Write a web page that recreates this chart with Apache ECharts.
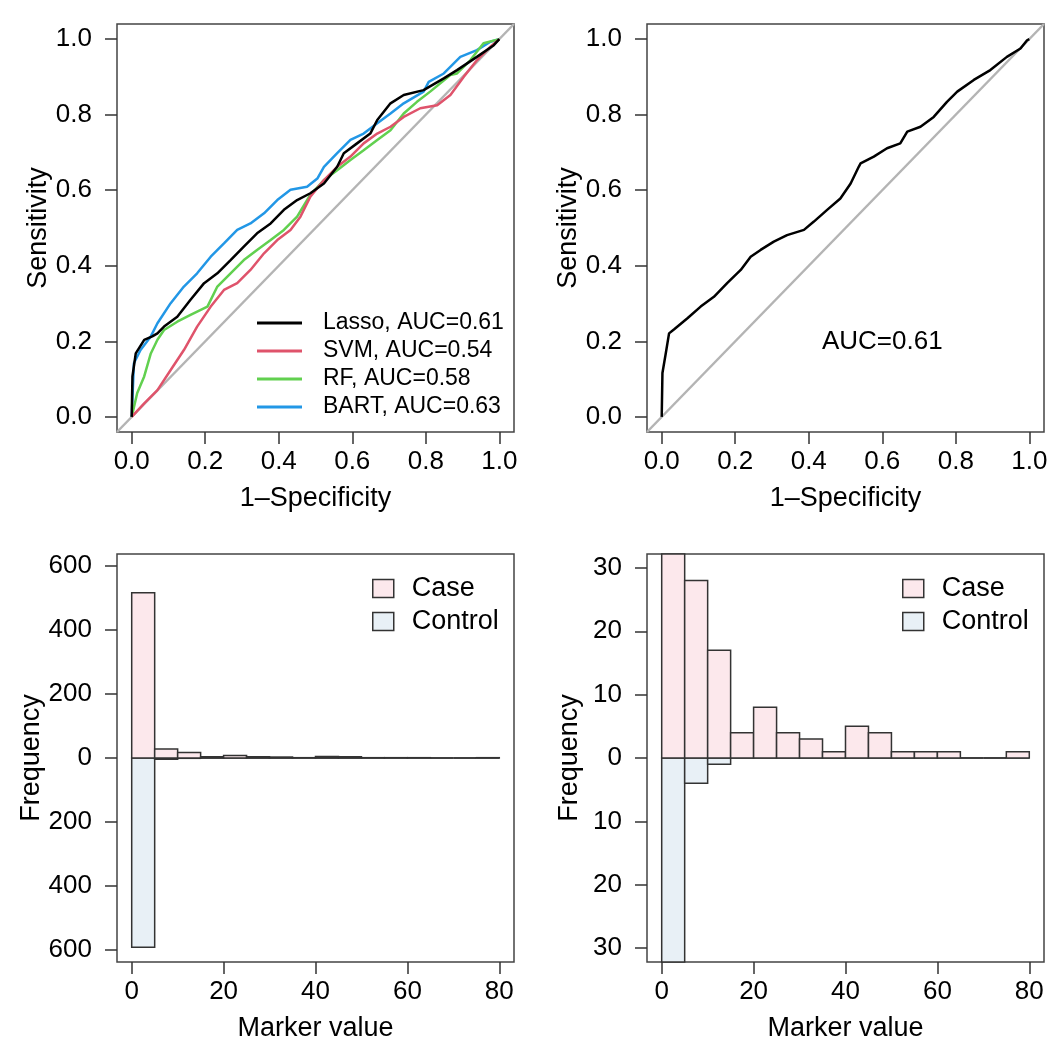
<!DOCTYPE html>
<html>
<head>
<meta charset="utf-8">
<script src="https://cdn.jsdelivr.net/npm/echarts@6/dist/echarts.min.js"></script>
<style>
  html, body { margin: 0; padding: 0; background: #fff; }
  #main { width: 1055px; height: 1057px; }
</style>
</head>
<body>
<div id="main"></div>
<script>
// ROC curves, [1-specificity, sensitivity]
var lassoRoc = [[0,0],[0.002,0.107],[0.011,0.168],[0.034,0.204],[0.056,0.213],[0.07,0.221],[0.088,0.239],[0.124,0.265],[0.16,0.31],[0.197,0.354],[0.233,0.38],[0.269,0.415],[0.305,0.451],[0.341,0.486],[0.378,0.512],[0.414,0.548],[0.45,0.574],[0.486,0.592],[0.523,0.618],[0.559,0.662],[0.577,0.698],[0.613,0.724],[0.649,0.75],[0.668,0.786],[0.704,0.83],[0.74,0.852],[0.794,0.865],[0.849,0.896],[0.885,0.918],[0.939,0.953],[0.985,0.984],[1,1]];
var svmRoc = [[0,0],[0.034,0.036],[0.07,0.071],[0.106,0.124],[0.142,0.177],[0.178,0.239],[0.215,0.292],[0.251,0.336],[0.287,0.354],[0.323,0.389],[0.36,0.433],[0.396,0.468],[0.432,0.495],[0.459,0.53],[0.486,0.583],[0.523,0.627],[0.559,0.662],[0.595,0.689],[0.631,0.724],[0.668,0.75],[0.704,0.768],[0.74,0.794],[0.785,0.817],[0.831,0.825],[0.867,0.852],[0.903,0.9],[0.939,0.944],[0.976,0.98],[1,1]];
var rfRoc = [[0,0],[0.015,0.063],[0.034,0.107],[0.052,0.168],[0.07,0.204],[0.088,0.23],[0.124,0.252],[0.16,0.27],[0.206,0.292],[0.233,0.345],[0.269,0.38],[0.305,0.415],[0.341,0.442],[0.378,0.468],[0.414,0.495],[0.45,0.53],[0.486,0.588],[0.523,0.627],[0.559,0.653],[0.595,0.68],[0.631,0.706],[0.668,0.733],[0.704,0.759],[0.74,0.803],[0.776,0.834],[0.812,0.861],[0.867,0.905],[0.885,0.909],[0.921,0.944],[0.957,0.989],[1,1]];
var bartRoc = [[0,0],[0.006,0.142],[0.024,0.177],[0.052,0.213],[0.07,0.248],[0.106,0.301],[0.142,0.345],[0.178,0.38],[0.215,0.424],[0.251,0.459],[0.287,0.495],[0.323,0.512],[0.36,0.539],[0.396,0.574],[0.432,0.601],[0.477,0.609],[0.505,0.631],[0.523,0.662],[0.559,0.698],[0.595,0.733],[0.631,0.75],[0.668,0.777],[0.704,0.803],[0.74,0.83],[0.794,0.861],[0.808,0.887],[0.849,0.909],[0.894,0.953],[0.939,0.971],[0.976,0.993],[1,1]];
var markerRoc = [[0,0],[0.002,0.116],[0.011,0.168],[0.02,0.221],[0.034,0.232],[0.07,0.261],[0.106,0.292],[0.142,0.318],[0.178,0.354],[0.215,0.389],[0.242,0.424],[0.269,0.442],[0.305,0.464],[0.341,0.481],[0.387,0.495],[0.414,0.517],[0.45,0.548],[0.486,0.578],[0.514,0.618],[0.536,0.662],[0.541,0.671],[0.577,0.689],[0.613,0.711],[0.649,0.724],[0.668,0.755],[0.704,0.768],[0.74,0.794],[0.776,0.834],[0.804,0.861],[0.849,0.892],[0.894,0.918],[0.939,0.953],[0.976,0.975],[0.994,0.997],[1,1]];
var diagonal = [[-0.04,-0.04],[1.04,1.04]];
var rocNames = ['Lasso, AUC=0.61', 'SVM, AUC=0.54', 'RF, AUC=0.58', 'BART, AUC=0.63'];
var rocColors = ['#000000', '#DF536B', '#61D04F', '#2297E6'];
var markerAuc = 'AUC=0.61';

// histogram of marker value, bins of width 5
var binEdges = [0,5,10,15,20,25,30,35,40,45,50,55,60,65,70,75,80];
var caseCounts = [517,28,17,4,8,4,3,1,5,4,1,1,1,0,0,1];
var controlCounts = [592,4,1,0,0,0,0,0,0,0,0,0,0,0,0,0];

var rocTicks = [0,0.2,0.4,0.6,0.8,1];
var histXTicks = [0,20,40,60,80];
var bigYTicks = [-600,-400,-200,0,200,400,600];
var smallYTicks = [-30,-20,-10,0,10,20,30];

var FONT = 'Liberation Sans, Arial, Helvetica, sans-serif';
var caseBins = binEdges.slice(0, -1).map(function (e, i) { return [e, binEdges[i + 1], caseCounts[i]]; });
var controlBins = binEdges.slice(0, -1).map(function (e, i) { return [e, binEdges[i + 1], -controlCounts[i]]; });

var myChart = echarts.init(document.getElementById('main'));

function renderBin(color) {
    return function (params, api) {
        var p0 = api.coord([api.value(0), api.value(2)]);
        var p1 = api.coord([api.value(1), 0]);
        var cs = params.coordSys;
        var rect = echarts.graphic.clipRectByRect({
            x: p0[0], y: Math.min(p0[1], p1[1]),
            width: p1[0] - p0[0], height: Math.abs(p1[1] - p0[1])
        }, { x: cs.x, y: cs.y, width: cs.width, height: cs.height });
        return rect && {
            type: 'rect', shape: rect,
            style: { fill: color, stroke: '#333', lineWidth: 1.5 }
        };
    };
}

function xAxis(idx, min, max, ticks, name, fmt) {
    return {
        gridIndex: idx, type: 'value', min: min, max: max,
        splitLine: { show: false },
        axisLine: { show: false, onZero: false },
        axisTick: { show: true, inside: false, length: 12, customValues: ticks, lineStyle: { color: '#333', width: 1.5 } },
        axisLabel: { customValues: ticks, margin: 17, color: '#000', fontSize: 26, fontFamily: FONT, formatter: fmt },
        name: name, nameLocation: 'middle', nameGap: 53,
        nameTextStyle: { color: '#000', fontSize: 27, fontFamily: FONT }
    };
}
function yAxis(idx, min, max, ticks, name, fmt) {
    return {
        gridIndex: idx, type: 'value', min: min, max: max,
        splitLine: { show: false },
        axisLine: { show: false, onZero: false },
        axisTick: { show: true, inside: false, length: 12, customValues: ticks, lineStyle: { color: '#333', width: 1.5 } },
        axisLabel: { customValues: ticks, margin: 25, color: '#000', fontSize: 26, fontFamily: FONT, formatter: fmt },
        name: name, nameLocation: 'middle', nameGap: 64, nameRotate: 90,
        nameTextStyle: { color: '#000', fontSize: 27, fontFamily: FONT }
    };
}
var decFmt = function (v) { return v.toFixed(1); };
var absFmt = function (v) { return String(Math.abs(v)); };

var gridStyle = { show: true, borderColor: '#444', borderWidth: 1.5, backgroundColor: 'transparent' };

var series = [];
[0, 1].forEach(function (g) {
    series.push({
        type: 'line', xAxisIndex: g, yAxisIndex: g, data: diagonal, symbol: 'none', silent: true,
        lineStyle: { color: '#b4b4b4', width: 2.5 }, z: 1
    });
});
[lassoRoc, svmRoc, rfRoc, bartRoc].forEach(function (d, i) {
    series.push({
        name: rocNames[i], type: 'line', xAxisIndex: 0, yAxisIndex: 0, data: d,
        symbol: 'none', lineStyle: { color: rocColors[i], width: 2.5 }, itemStyle: { color: rocColors[i] }, z: 5 - i
    });
});
series.push({
    type: 'line', xAxisIndex: 1, yAxisIndex: 1, data: markerRoc, symbol: 'none',
    lineStyle: { color: '#000', width: 2.5 }, z: 3
});
series.push({
    type: 'scatter', xAxisIndex: 1, yAxisIndex: 1, data: [[0.6, 0.2]], symbolSize: 0, silent: true,
    itemStyle: { opacity: 1 },
    label: { show: true, position: 'inside', formatter: markerAuc, color: '#000', opacity: 1, fontSize: 26, fontFamily: FONT }
});
[2, 3].forEach(function (g) {
    series.push({
        name: 'Case', type: 'custom', xAxisIndex: g, yAxisIndex: g, data: caseBins,
        encode: { x: [0, 1], y: 2 }, renderItem: renderBin('#fce8ec'), itemStyle: { color: '#fce8ec' }, z: 3
    });
    series.push({
        name: 'Control', type: 'custom', xAxisIndex: g, yAxisIndex: g, data: controlBins,
        encode: { x: [0, 1], y: 2 }, renderItem: renderBin('#e8f0f6'), itemStyle: { color: '#e8f0f6' }, z: 2
    });
});

var histLegend = function (left) {
    return {
        orient: 'vertical', left: left, top: 570, icon: 'rect', itemWidth: 21, itemHeight: 18, itemGap: 6,
        selectedMode: false, data: ['Case', 'Control'],
        itemStyle: { borderColor: '#333', borderWidth: 1.5 },
        textStyle: { color: '#000', fontSize: 27, lineHeight: 27, fontFamily: FONT, padding: [0, 0, 0, 13] }
    };
};

var option = {
    backgroundColor: '#fff',
    animation: false,
    grid: [
        Object.assign({ left: 117, top: 24, width: 397, height: 408 }, gridStyle),
        Object.assign({ left: 647, top: 24, width: 397, height: 408 }, gridStyle),
        Object.assign({ left: 117, top: 554, width: 397, height: 408 }, gridStyle),
        Object.assign({ left: 647, top: 554, width: 397, height: 408 }, gridStyle)
    ],
    xAxis: [
        xAxis(0, -0.04, 1.04, rocTicks, '1\u2013Specificity', decFmt),
        xAxis(1, -0.04, 1.04, rocTicks, '1\u2013Specificity', decFmt),
        xAxis(2, -3.2, 83.2, histXTicks, 'Marker value'),
        xAxis(3, -3.2, 83.2, histXTicks, 'Marker value')
    ],
    yAxis: [
        yAxis(0, -0.04, 1.04, rocTicks, 'Sensitivity', decFmt),
        yAxis(1, -0.04, 1.04, rocTicks, 'Sensitivity', decFmt),
        yAxis(2, -638, 638, bigYTicks, 'Frequency', absFmt),
        yAxis(3, -32.2, 32.2, smallYTicks, 'Frequency', absFmt)
    ],
    legend: [
        {
            orient: 'vertical', left: 252, top: 306, icon: 'rect', itemWidth: 45, itemHeight: 3, itemGap: 4,
            selectedMode: false, data: rocNames,
            textStyle: { color: '#000', fontSize: 23, lineHeight: 24, fontFamily: FONT, padding: [0, 0, 0, 16] }
        },
        histLegend(367),
        histLegend(897)
    ],
    series: series
};
myChart.setOption(option);
</script>
</body>
</html>
